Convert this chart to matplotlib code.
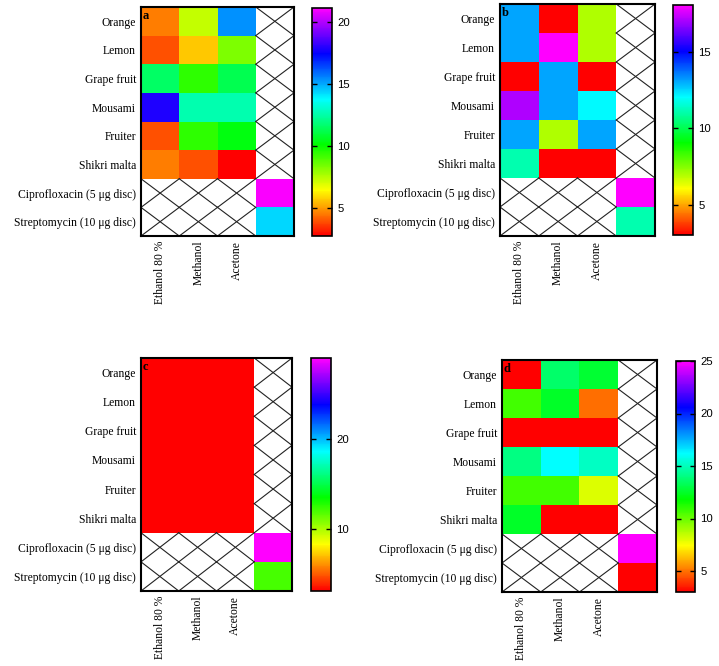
import numpy as np
import matplotlib
matplotlib.use('Agg')
import matplotlib.pyplot as plt
from matplotlib.colors import ListedColormap, hsv_to_rgb

rows = ['Orange', 'Lemon', 'Grape fruit', 'Mousami', 'Fruiter', 'Shikri malta',
        'Ciprofloxacin (5 \u03bcg disc)', 'Streptomycin (10 \u03bcg disc)']
solvents = ['Ethanol 80 %', 'Methanol', 'Acetone']

# extract values (rows: fruits, cols: solvents)
a_ext = [[4.5, 7.3, 15.3], [3.9, 5.6, 8.3], [11.5, 9.4, 11.2],
         [17.8, 12.6, 12.6], [3.9, 9.4, 10.3], [4.5, 3.9, 2.7]]
a_std = [21.0, 14.3]
b_ext = [[13.1, 3.0, 7.0], [13.1, 18.1, 7.0], [3.0, 13.1, 3.0],
         [17.1, 13.1, 12.1], [13.1, 7.0, 13.1], [11.1, 3.0, 3.0]]
b_std = [18.1, 11.1]
c_ext = [[3.0, 3.0, 3.0]] * 6
c_std = [29.0, 12.0]
d_ext = [[3.0, 13.6, 12.7], [10.7, 12.5, 4.9], [3.0, 3.0, 3.0],
         [14.0, 16.2, 15.2], [10.7, 10.7, 8.0], [12.5, 3.0, 3.0]]
d_std = [25.0, 3.0]

ranges = {'a': (2.7, 21.1), 'b': (3.0, 18.1), 'c': (3.0, 29.1), 'd': (3.0, 25.0)}
cticks = {'a': [5, 10, 15, 20], 'b': [5, 10, 15], 'c': [10, 20], 'd': [5, 10, 15, 20, 25]}

hues = np.linspace(0, 5 / 6, 256)
cmap = ListedColormap(hsv_to_rgb(np.stack([hues, np.ones_like(hues), np.ones_like(hues)], axis=1)))

W, H = 719, 666
fig = plt.figure(figsize=(W / 100, H / 100), dpi=100)

def fr(l, r, t, b):
    return [l / W, 1 - b / H, (r - l) / W, (b - t) / H]

layout = {
    'a': (fr(141, 294, 7, 236), fr(312, 332, 8, 236)),
    'b': (fr(500, 655, 4, 236), fr(673, 693, 5, 235)),
    'c': (fr(141, 292, 358, 591), fr(311, 331, 358, 591)),
    'd': (fr(502, 657, 360, 592), fr(676, 695, 361, 592)),
}
data = {'a': (a_ext, a_std), 'b': (b_ext, b_std), 'c': (c_ext, c_std), 'd': (d_ext, d_std)}

serif = 'Liberation Serif'
sans = 'Liberation Sans'

for key in ['a', 'b', 'c', 'd']:
    ext, std = data[key]
    M = np.full((8, 4), np.nan)
    M[:6, :3] = np.array(ext)
    M[6:, 3] = np.array(std)
    vmin, vmax = ranges[key]
    axpos, cbpos = layout[key]
    ax = fig.add_axes(axpos)
    mesh = ax.pcolormesh(np.ma.masked_invalid(M), cmap=cmap, vmin=vmin, vmax=vmax)
    ax.set_xlim(0, 4)
    ax.set_ylim(8, 0)
    for r in range(8):
        for c in range(4):
            if np.isnan(M[r, c]):
                ax.plot([c, c + 1], [r, r + 1], color='#222222', lw=0.8)
                ax.plot([c + 1, c], [r, r + 1], color='#222222', lw=0.8)
    ax.set_yticks(np.arange(8) + 0.5)
    ax.set_yticklabels(rows, family=serif, fontsize=8.4)
    ax.set_xticks(np.arange(3) + 0.5)
    ax.set_xticklabels(solvents, family=serif, fontsize=8.4, rotation=90)
    ax.tick_params(axis='y', length=0, pad=3.5)
    ax.tick_params(axis='x', length=0, pad=3.5)
    for s in ax.spines.values():
        s.set_linewidth(1.5)
    ax.text(0.05, 0.3, key, fontsize=9, fontweight='bold', family=serif, va='center', ha='left')

    cax = fig.add_axes(cbpos)
    cb = fig.colorbar(mesh, cax=cax)
    cb.set_ticks(cticks[key])
    cax.tick_params(left=True, right=True, direction='in', length=3.5, width=1,
                    labelsize=8.2, pad=4)
    for lab in cax.get_yticklabels():
        lab.set_family(sans)
    cb.outline.set_linewidth(1.2)

fig.savefig('out.png', dpi=100)
